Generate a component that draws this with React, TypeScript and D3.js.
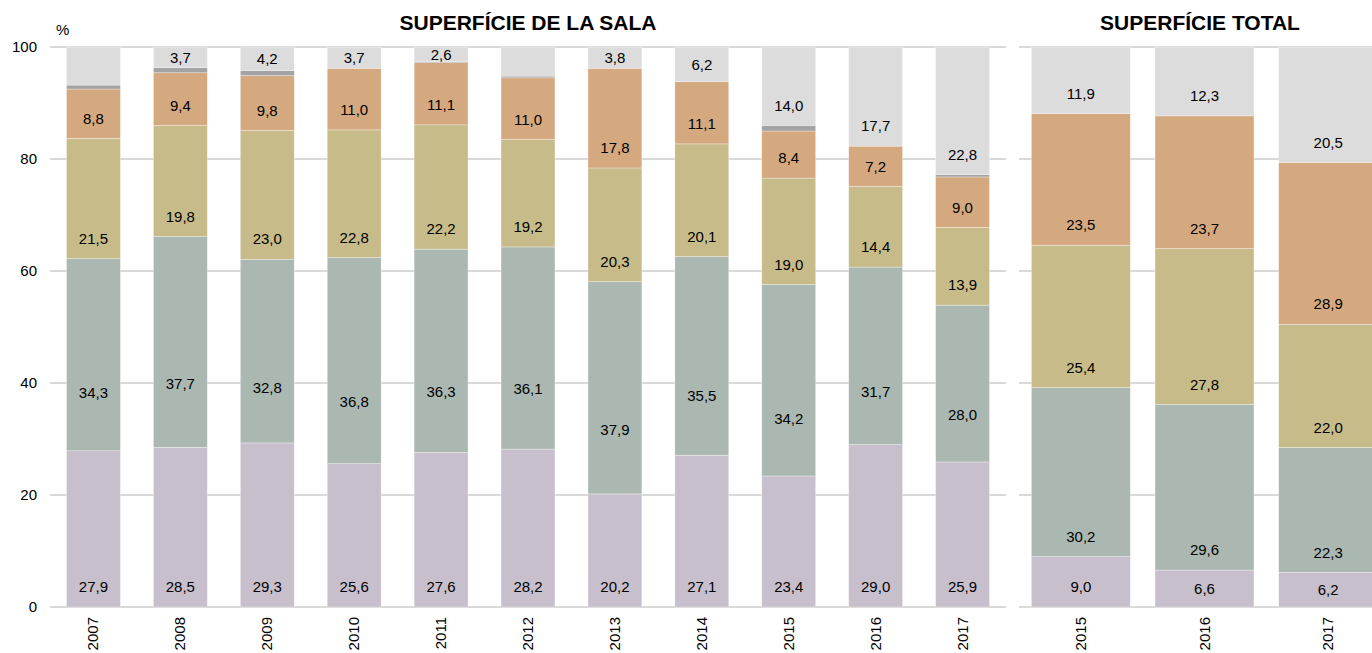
import React from 'react';
import * as d3 from 'd3';

// superfície de la sala, 2007-2017 (% per tram)
const salaYears = ['2007', '2008', '2009', '2010', '2011', '2012', '2013', '2014', '2015', '2016', '2017'];
const salaS1 = [27.9, 28.5, 29.3, 25.6, 27.6, 28.2, 20.2, 27.1, 23.4, 29.0, 25.9];
const salaS2 = [34.3, 37.7, 32.8, 36.8, 36.3, 36.1, 37.9, 35.5, 34.2, 31.7, 28.0];
const salaS3 = [21.5, 19.8, 23.0, 22.8, 22.2, 19.2, 20.3, 20.1, 19.0, 14.4, 13.9];
const salaS4 = [8.8, 9.4, 9.8, 11.0, 11.1, 11.0, 17.8, 11.1, 8.4, 7.2, 9.0];
const salaS5 = [0.7, 0.9, 0.9, 0.0, 0.2, 0.3, 0.0, 0.0, 1.0, 0.0, 0.4];
const salaS6 = [6.8, 3.7, 4.2, 3.7, 2.6, 5.2, 3.8, 6.2, 14.0, 17.7, 22.8];
const salaTopUnlabelled = ['2007', '2012'];

// superfície total, 2015-2017
const totalYears = ['2015', '2016', '2017'];
const totalS1 = [9.0, 6.6, 6.2];
const totalS2 = [30.2, 29.6, 22.3];
const totalS3 = [25.4, 27.8, 22.0];
const totalS4 = [23.5, 23.7, 28.9];
const totalS5 = [11.9, 12.3, 20.5];

const yTicks = [0, 20, 40, 60, 80, 100];

const colors = ['#C8BFCC', '#ABB8B1', '#C7BC89', '#D5A980', '#A3A3A3', '#DCDCDC'];

const W = 1372;
const H = 653;
const font = '"Liberation Sans", Arial, sans-serif';
const fmt = (v: number) => d3.format('.1f')(v).replace('.', ',');

type Seg = { key: string; i: number; y0: number; y1: number; v: number; label: boolean };

function buildSegs(years: string[], series: number[][], colorIdx: number[], unlabelled: (s: number, yr: string) => boolean) {
  const out: Seg[] = [];
  years.forEach((yr, j) => {
    let acc = 0;
    series.forEach((arr, s) => {
      const v = arr[j];
      out.push({ key: yr, i: colorIdx[s], y0: acc, y1: acc + v, v, label: v > 0 && !unlabelled(s, yr) });
      acc += v;
    });
  });
  return out;
}

const y = d3.scaleLinear().domain([0, 100]).range([607, 47]);

function Panel({ years, segs, x0, x1, padding, liftFrac }: {
  years: string[]; segs: Seg[]; x0: number; x1: number; padding: number; liftFrac: (s: Seg) => number | null;
}) {
  const x = d3.scaleBand().domain(years).range([x0, x1]).paddingInner(padding).paddingOuter(padding / 2);
  const gx0 = x0;
  const gx1 = Math.min(x1, W);
  return (
    <g>
      {yTicks.map(t => (
        <line key={t} x1={gx0} x2={gx1} y1={y(t)} y2={y(t)} stroke="#D9D9D9" strokeWidth={2} />
      ))}
      {segs.map((s, k) => (
        <rect key={k} x={x(s.key)} width={x.bandwidth()} y={y(s.y1)} height={y(s.y0) - y(s.y1)}
          fill={colors[s.i]} stroke="#ffffff" strokeOpacity={0.5} strokeWidth={0.6} />
      ))}
      {segs.filter(s => s.label).map((s, k) => {
        const base = y(s.y0);
        const h = y(s.y0) - y(s.y1);
        const f = liftFrac(s);
        const lift = f != null ? f * h : Math.min(20, h / 2);
        return (
          <text key={k} x={(x(s.key) as number) + x.bandwidth() / 2} y={base - lift} dy="0.35em"
            textAnchor="middle" fontSize={15} fontFamily={font} fill="#000">{fmt(s.v)}</text>
        );
      })}
      {years.map(yr => (
        <text key={yr} transform={`translate(${(x(yr) as number) + x.bandwidth() / 2 + 5},617) rotate(-90)`}
          textAnchor="end" fontSize={15} fontFamily={font} fill="#000">{yr}</text>
      ))}
    </g>
  );
}

export default function App() {
  const salaSegs = buildSegs(salaYears, [salaS1, salaS2, salaS3, salaS4, salaS5, salaS6], [0, 1, 2, 3, 4, 5],
    (s, yr) => s === 4 || (s === 5 && salaTopUnlabelled.includes(yr)));
  const totalSegs = buildSegs(totalYears, [totalS1, totalS2, totalS3, totalS4, totalS5], [0, 1, 2, 3, 5], () => false);

  return (
    <svg width={W} height={H} style={{ position: 'absolute', left: 0, top: 0, background: '#fff' }}>
      <text x={56} y={35} fontSize={15} fontFamily={font}>%</text>
      {yTicks.map(t => (
        <text key={t} x={37} y={y(t)} dy="0.35em" textAnchor="end" fontSize={15} fontFamily={font}>{t}</text>
      ))}
      <text x={528} y={30} textAnchor="middle" fontSize={21} fontWeight="bold" fontFamily={font}>SUPERFÍCIE DE LA SALA</text>
      <text x={1200} y={30} textAnchor="middle" fontSize={21} fontWeight="bold" fontFamily={font}>SUPERFÍCIE TOTAL</text>
      <Panel years={salaYears} segs={salaSegs} x0={50} x1={1006} padding={0.38}
        liftFrac={s => (s.i === 1 ? 0.3 : null)} />
      <Panel years={totalYears} segs={totalSegs} x0={1019} x1={1390} padding={0.2}
        liftFrac={() => null} />
    </svg>
  );
}
